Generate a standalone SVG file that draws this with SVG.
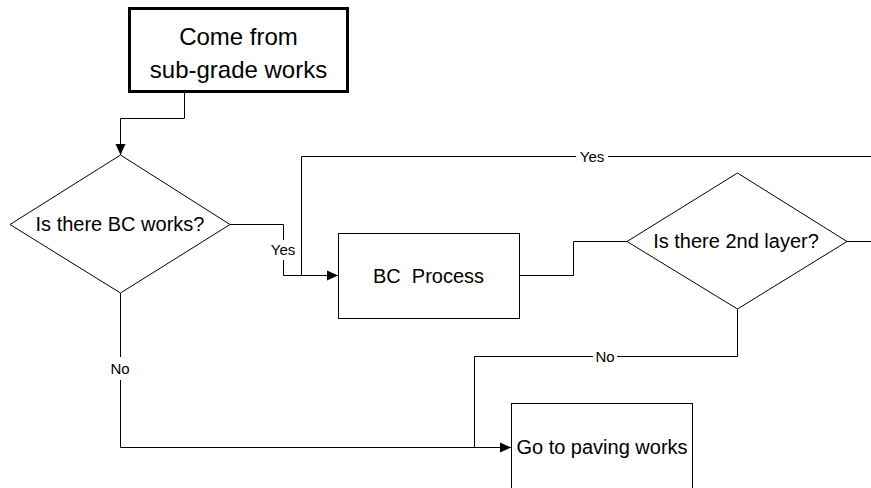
<svg xmlns="http://www.w3.org/2000/svg" width="871" height="488" viewBox="0 0 871 488">
<style>
.shape{fill:#fff;stroke:#000;stroke-width:1}
.thick{stroke-width:3}
.t{font-family:"Liberation Sans",Arial,sans-serif;font-size:20px;fill:#000;text-anchor:middle}
.big{font-size:24px}
.lbl{font-family:"Liberation Sans",Arial,sans-serif;font-size:15px;fill:#000;text-anchor:middle}
.c{fill:none;stroke:#000;stroke-width:1}
.bg{fill:#fff;stroke:none}
</style>
<defs>
<marker id="arr" markerWidth="12" markerHeight="12" refX="11" refY="5.5" orient="auto" markerUnits="userSpaceOnUse">
<path d="M0,0.5 L11,5.5 L0,10.5 Z" fill="#000"/>
</marker>
</defs>
<rect width="871" height="488" fill="#fff"/>
<g id="connectors">
<path class="c" d="M184.5 91 V118.5 H120.5 V155" marker-end="url(#arr)"/>
<path class="c" d="M230 224.5 H283.5 V275.5 H338" marker-end="url(#arr)"/>
<path class="c" d="M871 156.5 H301.5 V275.5"/>
<path class="c" d="M519 275.5 H573.5 V241.5 H627"/>
<path class="c" d="M847 241.5 H871"/>
<path class="c" d="M737.5 309 V356.5 H474.5 V447.5"/>
<path class="c" d="M120.5 293 V447.5 H511" marker-end="url(#arr)"/>
<rect class="bg" x="267" y="240" width="32" height="20"/>
<text class="lbl" x="283" y="255">Yes</text>
<rect class="bg" x="576" y="148" width="32" height="17"/>
<text class="lbl" x="592" y="161.5">Yes</text>
<rect class="bg" x="593" y="348" width="24" height="17"/>
<text class="lbl" x="605" y="361.5">No</text>
<rect class="bg" x="107" y="357" width="27" height="23"/>
<text class="lbl" x="120" y="373.5">No</text>
</g>
<g id="start">
<rect class="shape thick" x="129.5" y="8.5" width="218" height="83"/>
<text class="t big" x="238.5" y="45">Come from</text>
<text class="t big" x="238.5" y="78">sub-grade works</text>
</g>
<g id="decision1">
<polygon class="shape" points="120.5,155 230,224.5 120.5,293 10,224.5"/>
<text class="t" x="120" y="231">Is there BC works?</text>
</g>
<g id="bc-process">
<rect class="shape" x="338.5" y="233.5" width="181" height="85"/>
<text class="t" x="428.5" y="283" xml:space="preserve">BC  Process</text>
</g>
<g id="decision2">
<polygon class="shape" points="737.5,173 847,241.5 737.5,309 627,241.5"/>
<text class="t" x="736" y="248">Is there 2nd layer?</text>
</g>
<g id="paving">
<rect class="shape" x="511.5" y="403.5" width="181" height="100"/>
<text class="t" x="602" y="454">Go to paving works</text>
</g>
</svg>
